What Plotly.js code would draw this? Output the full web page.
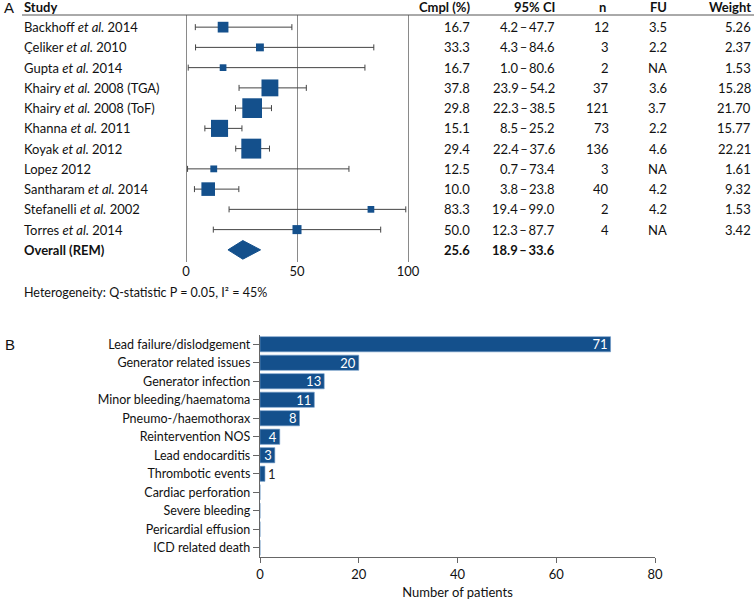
<!DOCTYPE html>
<html>
<head>
<meta charset="utf-8">
<script src="https://cdn.plot.ly/plotly-3.0.1.min.js"></script>
<style>html,body{margin:0;padding:0;background:#fff;}#chart{width:754px;height:600px;}</style>
</head>
<body>
<div id="chart"></div>
<script>
// ---- Panel A data (forest plot) ----
const studies = ['Backhoff <i>et al.</i> 2014', 'Çeliker <i>et al.</i> 2010', 'Gupta <i>et al.</i> 2014',
  'Khairy <i>et al.</i> 2008 (TGA)', 'Khairy <i>et al.</i> 2008 (ToF)', 'Khanna <i>et al.</i> 2011',
  'Koyak <i>et al.</i> 2012', 'Lopez 2012', 'Santharam <i>et al.</i> 2014', 'Stefanelli <i>et al.</i> 2002',
  'Torres <i>et al.</i> 2014'];
const cmpl = [16.7, 33.3, 16.7, 37.8, 29.8, 15.1, 29.4, 12.5, 10.0, 83.3, 50.0];
const ciLow = [4.2, 4.3, 1.0, 23.9, 22.3, 8.5, 22.4, 0.7, 3.8, 19.4, 12.3];
const ciHigh = [47.7, 84.6, 80.6, 54.2, 38.5, 25.2, 37.6, 73.4, 23.8, 99.0, 87.7];
const nPatients = [12, 3, 2, 37, 121, 73, 136, 3, 40, 2, 4];
const followUp = [3.5, 2.2, null, 3.6, 3.7, 2.2, 4.6, null, 4.2, 4.2, null];
const weight = [5.26, 2.37, 1.53, 15.28, 21.70, 15.77, 22.21, 1.61, 9.32, 1.53, 3.42];
const overallLabel = 'Overall (REM)';
const overallEst = 25.6, overallLow = 18.9, overallHigh = 33.6;
const forestTicks = [0, 50, 100];
const heterogeneity = 'Heterogeneity: Q-statistic P = 0.05, I² = 45%';

// ---- Panel B data (complications) ----
const complications = ['Lead failure/dislodgement', 'Generator related issues', 'Generator infection',
  'Minor bleeding/haematoma', 'Pneumo-/haemothorax', 'Reintervention NOS', 'Lead endocarditis',
  'Thrombotic events', 'Cardiac perforation', 'Severe bleeding', 'Pericardial effusion', 'ICD related death'];
const patients = [71, 20, 13, 11, 8, 4, 3, 1, 0, 0, 0, 0];
const barTicks = [0, 20, 40, 60, 80];

// ---- style ----
const W = 754, H = 600;
const FONT = 'Lato, sans-serif';
const BLUE = '#14508c';
const FS = 13;
const px = v => v / W;           // x pixel -> paper
const py = v => 1 - v / H;       // y pixel -> paper

const rows = studies.map((_, i) => i);
const overallRow = studies.length;

const traces = [];
// study squares with CI
traces.push({
  type: 'scatter', mode: 'markers', x: cmpl, y: rows, xaxis: 'x', yaxis: 'y',
  marker: {symbol: 'square', color: BLUE, opacity: 1,
    size: weight.map(w => 2 + 3.8 * Math.sqrt(w)), line: {width: 0}},
  error_x: {type: 'data', symmetric: false,
    array: ciHigh.map((h, i) => h - cmpl[i]), arrayminus: ciLow.map((l, i) => cmpl[i] - l),
    color: '#444', thickness: 1, width: 3},
  hoverinfo: 'skip', showlegend: false, cliponaxis: false
});
// overall diamond
traces.push({
  type: 'scatter', mode: 'lines', xaxis: 'x', yaxis: 'y',
  x: [overallLow, overallEst, overallHigh, overallEst, overallLow],
  y: [overallRow, overallRow - 0.46, overallRow, overallRow + 0.46, overallRow],
  fill: 'toself', fillcolor: BLUE, line: {color: BLUE, width: 1},
  hoverinfo: 'skip', showlegend: false
});
// panel B bars
traces.push({
  type: 'bar', orientation: 'h', x: patients, y: complications, xaxis: 'x2', yaxis: 'y2',
  marker: {color: BLUE, line: {color: '#6f9bc8', width: 0.6}},
  width: 0.82,
  text: patients.map(v => v > 0 ? String(v) : ''),
  textposition: patients.map(v => v >= 2 ? 'inside' : 'outside'),
  insidetextanchor: 'end',
  insidetextfont: {color: '#fff', size: 13, family: FONT},
  outsidetextfont: {color: '#222', size: 13, family: FONT},
  textangle: 0, constraintext: 'none', cliponaxis: false,
  hoverinfo: 'skip', showlegend: false
});

const ann = [];
const txt = (text, x, y, opts = {}) => Object.assign({
  text, x, y, xref: 'paper', yref: 'paper', showarrow: false,
  xanchor: 'left', yanchor: 'middle', font: {family: FONT, size: FS, color: '#111'}
}, opts);

// panel letters
ann.push(txt('A', px(2), py(8), {font: {family: 'Liberation Sans, Arial', size: 15, color: '#111'}}));
ann.push(txt('B', px(3), py(344), {font: {family: 'Liberation Sans, Arial', size: 15, color: '#111'}}));

// header
const headY = py(7);
const bold = {family: FONT, size: FS, color: '#111', weight: 'bold'};
ann.push(txt('<b>Study</b>', px(22), headY, {font: bold}));
const cols = [
  {h: 'Cmpl (%)', r: 472},
  {h: '95% CI', r: 557},
  {h: 'n', r: 611},
  {h: 'FU', r: 669},
  {h: 'Weight', r: 753}
];
const headRight = [472, 557, 608, 669, 753];
cols.forEach((c, j) => ann.push(txt('<b>' + c.h + '</b>', px(headRight[j]), headY, {xanchor: 'right', font: bold})));

const fmtCI = (l, h) => l.toFixed(1) + '\u2009–\u2009' + h.toFixed(1);
const rowAnn = (text, x, row, opts = {}) => txt(text, x, row, Object.assign({yref: 'y'}, opts));
studies.forEach((s, i) => {
  ann.push(rowAnn(s, px(22), i));
  ann.push(rowAnn(cmpl[i].toFixed(1), px(cols[0].r), i, {xanchor: 'right'}));
  ann.push(rowAnn(fmtCI(ciLow[i], ciHigh[i]), px(cols[1].r), i, {xanchor: 'right'}));
  ann.push(rowAnn(String(nPatients[i]), px(cols[2].r), i, {xanchor: 'right'}));
  ann.push(rowAnn(followUp[i] == null ? 'NA' : followUp[i].toFixed(1), px(cols[3].r), i, {xanchor: 'right'}));
  ann.push(rowAnn(weight[i].toFixed(2), px(cols[4].r), i, {xanchor: 'right'}));
});
ann.push(rowAnn('<b>' + overallLabel + '</b>', px(22), overallRow, {font: bold}));
ann.push(rowAnn('<b>' + overallEst.toFixed(1) + '</b>', px(cols[0].r), overallRow, {xanchor: 'right', font: bold}));
ann.push(rowAnn('<b>' + fmtCI(overallLow, overallHigh) + '</b>', px(cols[1].r), overallRow, {xanchor: 'right', font: bold}));
ann.push(txt(heterogeneity, px(22), py(292), {font: {family: FONT, size: 12.5, color: '#111'}}));

// forest axis geometry: 0 -> 186px, 100 -> 408px
const fxRange = [-5, 105];
const unit = (408 - 186) / 100;
const fLeft = 186 + fxRange[0] * unit, fRight = 186 + fxRange[1] * unit;

const layout = {
  width: W, height: H,
  margin: {l: 0, r: 0, t: 0, b: 0, pad: 0},
  paper_bgcolor: '#fff', plot_bgcolor: 'rgba(0,0,0,0)',
  font: {family: FONT, size: FS, color: '#111'},
  showlegend: false,
  xaxis: {
    domain: [px(fLeft), px(fRight)], range: fxRange, anchor: 'y',
    tickvals: forestTicks, ticktext: forestTicks.map(String),
    showgrid: true, gridcolor: '#8a8a8a', gridwidth: 1, zeroline: false,
    showline: false, ticks: '', tickfont: {family: FONT, size: FS, color: '#111'}
  },
  yaxis: {
    domain: [py(262), py(15)], range: [overallRow + 0.6, -0.6], anchor: 'x',
    showgrid: false, zeroline: false, showticklabels: false, showline: false, ticks: ''
  },
  xaxis2: {
    domain: [px(260), px(655)], range: [0, 80], anchor: 'y2',
    tickvals: barTicks, ticktext: barTicks.map(String),
    showline: true, linecolor: '#666', linewidth: 1.2,
    ticks: 'outside', ticklen: 5, tickcolor: '#666', tickwidth: 1,
    showgrid: false, zeroline: false,
    tickfont: {family: FONT, size: FS, color: '#111'},
    title: {text: 'Number of patients', font: {family: FONT, size: FS, color: '#111'}, standoff: 7}
  },
  yaxis2: {
    domain: [py(557), py(335)], anchor: 'x2', type: 'category',
    autorange: 'reversed',
    showline: true, linecolor: '#666', linewidth: 1.2,
    ticks: 'outside', ticklen: 6, tickcolor: '#666', tickwidth: 1,
    showgrid: false, zeroline: false,
    tickfont: {family: FONT, size: 12.5, color: '#111'}
  },
  shapes: [
    {type: 'line', xref: 'paper', yref: 'paper', x0: px(22), x1: 1, y0: py(15), y1: py(15),
     line: {color: '#555', width: 1}}
  ],
  annotations: ann
};

Plotly.newPlot('chart', traces, layout, {staticPlot: true, displayModeBar: false});
</script>
</body>
</html>
